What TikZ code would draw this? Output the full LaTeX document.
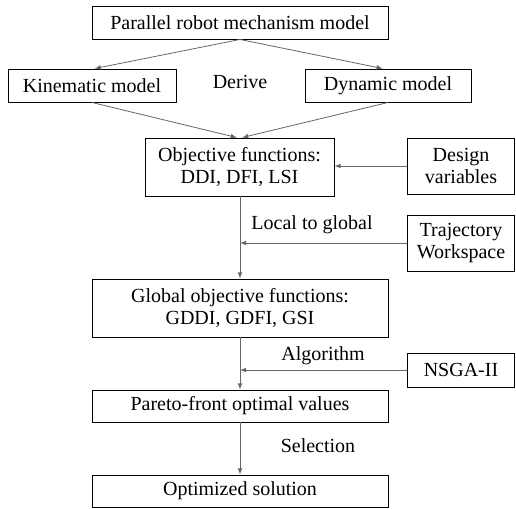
\documentclass[tikz,border=0pt]{standalone}
\usepackage{fontspec}
\setmainfont{LiberationSerif}[Extension=.ttf,UprightFont=*-Regular,BoldFont=*-Bold]
\usepackage{tikz}
\usetikzlibrary{calc,arrows}

\tikzset{
  blk/.style={draw,line width=0.7pt,align=center,inner sep=0pt,font=\fontsize{15}{16.5}\selectfont},
  lbl/.style={font=\fontsize{15}{16.5}\selectfont},
  con/.style={-latex,draw=black!60,line width=0.6pt}
}

\begin{document}
\begin{tikzpicture}[x=0.75pt,y=-0.75pt]
                 \useasboundingbox (0,0) rectangle (516,508);
                 % boxes of the main chain
                 \node[blk,minimum width=222pt,minimum height=24.75pt](top)at(240,22.5){Parallel robot mechanism model};
                 \node[blk,minimum width=126pt,minimum height=24.75pt](kin)at(92,85.5){Kinematic model};
                 \node[blk,minimum width=124.5pt,minimum height=24.75pt](dyn)at(388,85.5){Dynamic model};
                 \node[blk,minimum width=141.75pt,minimum height=43.5pt](obj)at(239.5,167){Objective functions:\\DDI, DFI, LSI};
                 \node[blk,minimum width=222pt,minimum height=43.5pt](glob)at(240,308){Global objective functions:\\GDDI, GDFI, GSI};
                 \node[blk,minimum width=222pt,minimum height=24pt](par)at(240,406){Pareto-front optimal values};
                 \node[blk,minimum width=222pt,minimum height=24pt](opt)at(240,491){Optimized solution};
                 % side inputs
                 \node[blk,minimum width=80.25pt,minimum height=42pt](des)at(461,166){Design\\variables};
                 \node[blk,minimum width=80.25pt,minimum height=42pt](traj)at(461,243){Trajectory\\Workspace};
                 \node[blk,minimum width=80.25pt,minimum height=25.5pt](nsga)at(461,370){NSGA-II};
                 % labels
                 \node[lbl](derive)at(240,82){Derive};
                 \node[lbl](loc)at(312,225){Local to global};
                 \node[lbl](alg)at(323,356){Algorithm};
                 \node[lbl](sel)at(318,446){Selection};
                 \coordinate (jt) at (glob.north |- traj.west);
                 \coordinate (jn) at (par.north |- nsga.west);
                 % connectors
                 \draw[con](top.south)--([xshift=2pt]kin.north);
                 \draw[con](top.south)--([xshift=-4pt]dyn.north);
                 \draw[con](kin.south)--([xshift=-2pt]obj.north);
                 \draw[con](dyn.south)--([xshift=2pt]obj.north);
                 \draw[con](des.west)--(obj.east|-des.west);
                 \draw[con](obj.south-|glob.north)--(glob.north);
                 \draw[con](traj.west)--(jt);
                 \draw[con](glob.south)--(par.north);
                 \draw[con](nsga.west)--(jn);
                 \draw[con](par.south)--(opt.north);
               \end{tikzpicture}
\end{document}
